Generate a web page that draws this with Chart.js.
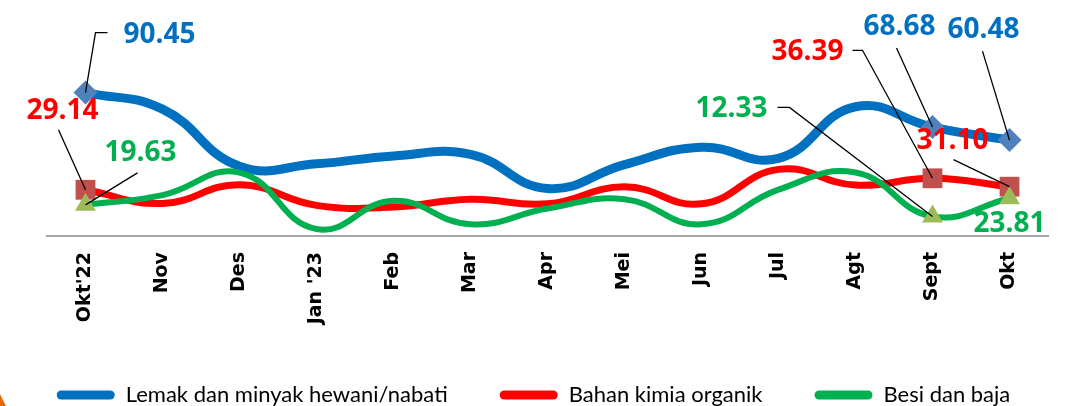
<!DOCTYPE html>
<html lang="id">
<head>
    <meta charset="UTF-8">
    <title>Perkembangan harga</title>
    <script src="https://cdn.jsdelivr.net/npm/chart.js"></script>
    <style>
        html, body { margin: 0; padding: 0; background: #fff; }
        .wrap { position: relative; width: 1067px; height: 406px; overflow: hidden; }
        .corner {
            position: absolute; left: 0; top: 394px; width: 6px; height: 12px;
            background: #E36C09; clip-path: polygon(0 0, 100% 100%, 0 100%);
        }
    </style>
</head>
<body>
    <div class="wrap">
        <canvas id="chart" width="1067" height="406"></canvas>
        <div class="corner"></div>
    </div>
    <script>
    // Data
    const months = ["Okt'22", 'Nov', 'Des', "Jan '23", 'Feb', 'Mar', 'Apr', 'Mei', 'Jun', 'Jul', 'Agt', 'Sept', 'Okt'];
    const lemak = [90.45, 80, 44, 45.5, 50.5, 51.5, 30, 45, 56, 49, 81.5, 68.68, 60.48];
    const kimia = [29.14, 20.5, 32.3, 19.3, 18.3, 23.2, 20.3, 31, 20.3, 42, 32.1, 36.39, 31.10];
    const besi  = [19.63, 25.8, 40, 4.4, 22.2, 7.4, 17.3, 23.2, 7.4, 29.2, 40, 12.33, 23.81];

    const seriesNames = ['Lemak dan minyak hewani/nabati', 'Bahan kimia organik', 'Besi dan baja'];

    // markers only on the first point and the last two
    const marks = (r) => months.map((m, i) => (i === 0 || i >= months.length - 2) ? r : 0);

    // callout labels: [dataset, index, text dx, text dy, leader points relative to the point]
    const callouts = [
        [0, 0, 74, -60, [[22, -60], [10, -60], [0, 0]]],
        [1, 0, -23, -81, [[-27, -60], [0, 0]]],
        [2, 0, 55, -54, [[52, -32], [0, 0]]],
        [1, 11, -125, -128, [[-80, -128], [-70, -128], [0, 0]]],
        [0, 11, -33, -102, [[-36, -79], [0, 0]]],
        [0, 12, -26, -112, [[-27, -89], [0, 0]]],
        [1, 12, -57, -48, [[-56, -27], [0, 0]]],
        [2, 11, -201, -109, [[-155, -109], [-143, -109], [0, 0]]],
        [2, 12, 0, 24, null]
    ];
    const labelColors = ['#0070C0', '#FF0000', '#00B050'];

    const calloutPlugin = {
        id: 'callouts',
        afterDatasetsDraw(chart) {
            const ctx = chart.ctx;
            ctx.save();
            callouts.forEach(([ds, idx, dx, dy, leader]) => {
                const pt = chart.getDatasetMeta(ds).data[idx];
                const value = chart.data.datasets[ds].data[idx];
                if (leader) {
                    ctx.beginPath();
                    ctx.strokeStyle = '#000';
                    ctx.lineWidth = 1.3;
                    leader.forEach(([lx, ly], k) => {
                        if (k === 0) ctx.moveTo(pt.x + lx, pt.y + ly);
                        else ctx.lineTo(pt.x + lx, pt.y + ly);
                    });
                    ctx.stroke();
                }
                ctx.font = 'bold 28px "Open Sans"';
                ctx.fillStyle = labelColors[ds];
                ctx.textAlign = 'center';
                ctx.textBaseline = 'alphabetic';
                ctx.fillText(value.toFixed(2), pt.x + dx, pt.y + dy + 10);
            });
            ctx.restore();
        }
    };

    const hiddenAxis = (pos, w) => ({
        position: pos,
        display: true,
        min: 0,
        max: 140,
        ticks: { display: false },
        grid: { display: false, drawTicks: false },
        border: { display: false },
        afterFit: (scale) => { scale.width = w; }
    });

    new Chart(document.getElementById('chart'), {
        type: 'line',
        data: {
            labels: months,
            datasets: [
                {
                    label: seriesNames[0],
                    data: lemak,
                    borderColor: '#0070C0',
                    backgroundColor: '#0070C0',
                    borderWidth: 9,
                    pointStyle: 'rectRot',
                    pointRadius: marks(12),
                    pointBackgroundColor: '#4F81BD',
                    pointBorderWidth: 0,
                    order: 2
                },
                {
                    label: seriesNames[1],
                    data: kimia,
                    borderColor: '#FF0000',
                    backgroundColor: '#FF0000',
                    borderWidth: 7,
                    pointStyle: 'rect',
                    pointRadius: marks(14),
                    pointBackgroundColor: '#C0504D',
                    pointBorderWidth: 0,
                    order: 1
                },
                {
                    label: seriesNames[2],
                    data: besi,
                    borderColor: '#00B050',
                    backgroundColor: '#00B050',
                    borderWidth: 6,
                    pointStyle: 'triangle',
                    pointRadius: marks(12),
                    pointBackgroundColor: '#9BBB59',
                    pointBorderWidth: 0,
                    order: 0
                }
            ]
        },
        options: {
            responsive: false,
            animation: false,
            clip: false,
            layout: { padding: { left: 0, right: 0, top: 0, bottom: -10 } },
            elements: { line: { tension: 0.45 } },
            scales: {
                x: {
                    offset: true,
                    grid: { display: false, drawTicks: false },
                    border: { display: true, color: '#A6A6A6', width: 2 },
                    ticks: {
                        minRotation: 90,
                        maxRotation: 90,
                        padding: 16,
                        color: '#000',
                        font: { family: '"DejaVu Sans"', size: 19, weight: 'bold' }
                    },
                    afterFit: (scale) => { scale.height = 96; }
                },
                y: hiddenAxis('left', 47),
                yR: hiddenAxis('right', 19)
            },
            plugins: {
                tooltip: { enabled: false },
                legend: {
                    position: 'bottom',
                    labels: {
                        sort: (a, b) => a.datasetIndex - b.datasetIndex,
                        generateLabels: (chart) => Chart.defaults.plugins.legend.labels
                            .generateLabels(chart).map(item => ({ ...item, lineWidth: 0 })),
                        boxWidth: 58,
                        boxHeight: 9,
                        useBorderRadius: true,
                        borderRadius: 4.5,
                        padding: 52,
                        color: '#000',
                        font: { family: 'Lato', size: 22 }
                    }
                }
            }
        },
        plugins: [calloutPlugin]
    });
    </script>
</body>
</html>
